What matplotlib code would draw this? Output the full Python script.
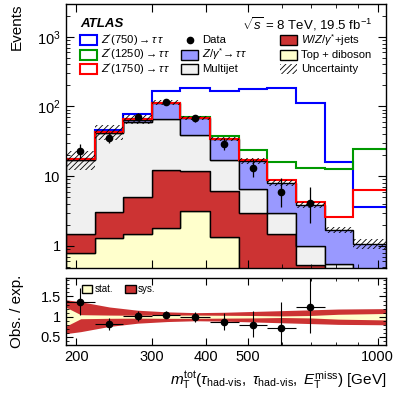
import numpy as np
import matplotlib
matplotlib.use('Agg')
import matplotlib.pyplot as plt
from matplotlib.patches import Rectangle, Patch
from matplotlib.ticker import FixedLocator, NullFormatter, FuncFormatter, MultipleLocator, LogLocator

plt.rcParams['font.family'] = ['Liberation Sans', 'DejaVu Sans']
plt.rcParams['mathtext.fontset'] = 'custom'
plt.rcParams['mathtext.rm'] = 'Liberation Sans'
plt.rcParams['mathtext.it'] = 'Liberation Sans:italic'
plt.rcParams['mathtext.bf'] = 'Liberation Sans:bold'
plt.rcParams['hatch.linewidth'] = 0.6

# ---------------- data ----------------
edges = [189, 221, 257, 300, 349, 408, 476, 554, 646, 753, 877, 1045]

top_diboson = [0.79, 1.28, 1.5, 1.78, 3.2, 1.35, 0.4, 0.3, 0.15, 0.08, 0.03]
wz_jets = [0.70, 1.79, 3.6, 10.4, 8.5, 4.75, 2.52, 1.17, 0.38, 0.22, 0.12]
multijet = [15.5, 38.9, 54.9, 54.8, 27.0, 10.7, 3.53, 1.51, 0.46, 0.25, 0.2]
ztautau = [0.5, 1.5, 5.0, 46, 30, 17.4, 10.15, 5.0, 2.85, 1.13, 0.73]
bkg_unc = [0.30, 0.25, 0.15, 0.08, 0.07, 0.08, 0.10, 0.10, 0.10, 0.10, 0.17]

zp750 = [0.1, 2.2, 12, 54, 117, 133, 160, 179, 109, 14.3, 2.5]
zp1250 = [0.05, 0.1, 0.5, 1, 2.3, 3.7, 6.8, 8.0, 9.4, 10.9, 23.3]
zp1750 = [0.02, 0.05, 0.1, 0.2, 0.3, 0.4, 0.6, 0.8, 0.36, 0.92, 5.2]

data = [23.1, 35.5, 71, 116, 67.3, 29.2, 13.2, 5.95, 4.06]
data_lo = [4.8, 5.9, 8.4, 10.8, 8.2, 5.4, 3.6, 2.35, 1.96]
data_hi = [5.9, 7.0, 9.4, 11.8, 9.2, 6.5, 4.7, 3.5, 2.94]

ratio = [1.36, 0.81, 1.01, 1.05, 0.99, 0.87, 0.79, 0.71, 1.25]
ratio_lo = [0.32, 0.15, 0.12, 0.09, 0.12, 0.20, 0.30, 0.45, 0.66]
ratio_hi = [0.35, 0.16, 0.13, 0.10, 0.13, 0.22, 0.35, 0.66, 0.90]

band_x = [189, 205, 239, 278, 325, 379, 441, 514, 599, 697, 810, 1045]
band_sys = [0.42, 0.37, 0.24, 0.16, 0.12, 0.10, 0.11, 0.13, 0.15, 0.17, 0.19, 0.20]
band_stat = [0.24, 0.05, 0.04, 0.035, 0.04, 0.04, 0.035, 0.03, 0.02, 0.03, 0.06, 0.08]

# ---------------- colours ----------------
c_top = '#ffffcc'
c_wz = '#cc3333'
c_mj = '#f0f0f0'
c_ztt = '#9999ff'
c_z750 = '#0000ff'
c_z1250 = '#009900'
c_z1750 = '#ff0000'

edges = np.array(edges, dtype=float)
centers = np.sqrt(edges[:-1] * edges[1:])
layers = [top_diboson, wz_jets, multijet, ztautau]
layer_cols = [c_top, c_wz, c_mj, c_ztt]
cum = np.cumsum(np.array(layers), axis=0)
total = cum[-1]

W, H = 407, 393
fig = plt.figure(figsize=(W / 100, H / 100), dpi=100)
ax = fig.add_axes([65.5 / W, 1 - 267.5 / H, 320.5 / W, 263.5 / H])
ax2 = fig.add_axes([65.5 / W, 1 - 345 / H, 320.5 / W, 66.7 / H])

# stacked backgrounds
prev = np.full(len(total), 1e-3)
for c, col in zip(cum, layer_cols):
    ax.stairs(c, edges, baseline=prev, fill=True, facecolor=col, edgecolor='k', lw=1.0)
    prev = c

# signals on top of background
for sig, col in [(zp750, c_z750), (zp1250, c_z1250), (zp1750, c_z1750)]:
    ax.stairs(total + np.array(sig), edges, baseline=None, color=col, lw=1.5)

# background uncertainty
u = np.array(bkg_unc)
ax.stairs(total * (1 + u), edges, baseline=total * (1 - u), fill=True,
          facecolor='none', edgecolor='k', hatch='//////', lw=0)

ndat = len(data)
ax.errorbar(centers[:ndat], data, yerr=[data_lo, data_hi], fmt='o', color='k',
            ms=4.5, elinewidth=0.9, capsize=0, zorder=5)

ax.set_xscale('log')
ax.set_yscale('log')
ax.set_xlim(189, 1045)
ax.set_ylim(0.49, 2950)


def ylab(v, pos):
    if v == 1:
        return '1'
    if v == 10:
        return '10'
    return r'$10^{%d}$' % int(round(np.log10(v)))


ax.yaxis.set_major_locator(FixedLocator([1, 10, 100, 1000]))
ax.yaxis.set_major_formatter(FuncFormatter(ylab))
ax.yaxis.set_minor_locator(LogLocator(base=10, subs=np.arange(2, 10)))
ax.yaxis.set_minor_formatter(NullFormatter())

for a in (ax, ax2):
    a.xaxis.set_major_locator(FixedLocator([200, 300, 400, 500, 1000]))
    a.xaxis.set_minor_locator(FixedLocator([600, 700, 800, 900]))
    a.xaxis.set_minor_formatter(NullFormatter())
    a.tick_params(which='both', direction='in', top=True, right=True, labelsize=10.5)
    a.tick_params(which='major', length=6)
    a.tick_params(which='minor', length=3)
    for s in a.spines.values():
        s.set_linewidth(1.0)
ax.tick_params(labelbottom=False)

ax.set_ylabel('Events', loc='top', fontsize=11)
ax.yaxis.set_label_coords(-0.13, 1.0)

ax.text(0.045, 0.925, 'ATLAS', transform=ax.transAxes, fontsize=9.5,
        fontweight='bold', fontstyle='italic', va='center', ha='left')
ax.text(0.956, 0.925, r'$\sqrt{s}$ = 8 TeV, 19.5 fb$^{-1}$', transform=ax.transAxes,
        fontsize=9.5, va='center', ha='right')

# legend, laid out by hand in three columns (pixel positions of the reference)
def px(x, y):
    return (x - 65.5) / 320.5, (267.5 - y) / 263.5


rows = [40, 54.5, 69]
cols = [80, 181, 280]
entries = [
    [('box', 'white', c_z750, r"$Z'$(750)$\rightarrow\tau\,\tau$"),
     ('box', 'white', c_z1250, r"$Z'$(1250)$\rightarrow\tau\,\tau$"),
     ('box', 'white', c_z1750, r"$Z'$(1750)$\rightarrow\tau\,\tau$")],
    [('dot', None, None, 'Data'),
     ('box', c_ztt, 'k', r'$Z/\gamma^{*}\!\rightarrow\tau\,\tau$'),
     ('box', c_mj, 'k', 'Multijet')],
    [('box', c_wz, 'k', r'$W/Z/\gamma^{*}$+jets'),
     ('box', c_top, 'k', 'Top + diboson'),
     ('hatch', None, None, 'Uncertainty')],
]
bw, bh = 17 / 320.5, 10 / 263.5
for cx, col_entries in zip(cols, entries):
    for ry, (kind, fc, ec, label) in zip(rows, col_entries):
        x0, y0 = px(cx, ry)
        if kind == 'box':
            ax.add_patch(Rectangle((x0, y0 - bh / 2), bw, bh, transform=ax.transAxes,
                                   facecolor=fc, edgecolor=ec, lw=1.5 if ec != 'k' else 1.0,
                                   zorder=6))
        elif kind == 'hatch':
            ax.add_patch(Rectangle((x0, y0 - bh / 2), bw, bh, transform=ax.transAxes,
                                   facecolor='none', edgecolor='k', hatch='//////', lw=0,
                                   zorder=6))
        else:
            ax.plot([x0 + bw / 2], [y0], 'o', color='k', ms=4.5, transform=ax.transAxes,
                    zorder=6)
        ax.text(x0 + bw + 4 / 320.5, y0, label, transform=ax.transAxes, fontsize=8.1,
                va='center', ha='left', zorder=6)

# ratio panel
ax2.fill_between(band_x, 1 - np.array(band_sys), 1 + np.array(band_sys), color=c_wz, lw=0)
ax2.fill_between(band_x, 1 - np.array(band_stat), 1 + np.array(band_stat), color=c_top, lw=0)
nr = len(ratio)
xerr = [centers[:nr] - edges[:nr], edges[1:nr + 1] - centers[:nr]]
ax2.errorbar(centers[:nr], ratio, yerr=[ratio_lo, ratio_hi], xerr=xerr, fmt='o', color='k',
             ms=4.5, elinewidth=0.8, capsize=0, zorder=5)
ax2.set_xscale('log')
ax2.set_xlim(189, 1045)
ax2.set_ylim(0.3, 1.95)
ax2.xaxis.set_major_locator(FixedLocator([200, 300, 400, 500, 1000]))
ax2.xaxis.set_major_formatter(FuncFormatter(lambda v, p: '%d' % v))
ax2.xaxis.set_minor_locator(FixedLocator([600, 700, 800, 900]))
ax2.xaxis.set_minor_formatter(NullFormatter())
ax2.yaxis.set_major_locator(FixedLocator([0.5, 1, 1.5]))
ax2.yaxis.set_major_formatter(FuncFormatter(lambda v, p: '%g' % v))
ax2.yaxis.set_minor_locator(MultipleLocator(0.1))
ax2.tick_params(which='major', length=5)
ax2.tick_params(which='minor', length=2.5)

ax2.legend([Patch(facecolor=c_top, edgecolor='k', lw=1), Patch(facecolor=c_wz, edgecolor='k', lw=1)],
           ['stat.', 'sys.'], ncol=2, loc='center left', bbox_to_anchor=(0.05, 0.84),
           frameon=False, fontsize=7, handlelength=1.1, handleheight=0.9, handletextpad=0.25,
           columnspacing=1.2, borderpad=0, borderaxespad=0)

hv = r'\mathrm{had}' + '\u2010' + r'\mathrm{vis}'
xlab = (r'$m_{\mathrm{T}}^{\mathrm{tot}}(\tau_{' + hv + r'},\ \tau_{' + hv
        + r'},\ E_{\mathrm{T}}^{\mathrm{miss}})$ [GeV]')
ax2.set_ylabel('Obs. / exp.', fontsize=11)
ax2.yaxis.set_label_coords(-0.13, 0.5)
ax2.set_xlabel(xlab, loc='right', fontsize=11)

fig.savefig('out.png', dpi=100)
